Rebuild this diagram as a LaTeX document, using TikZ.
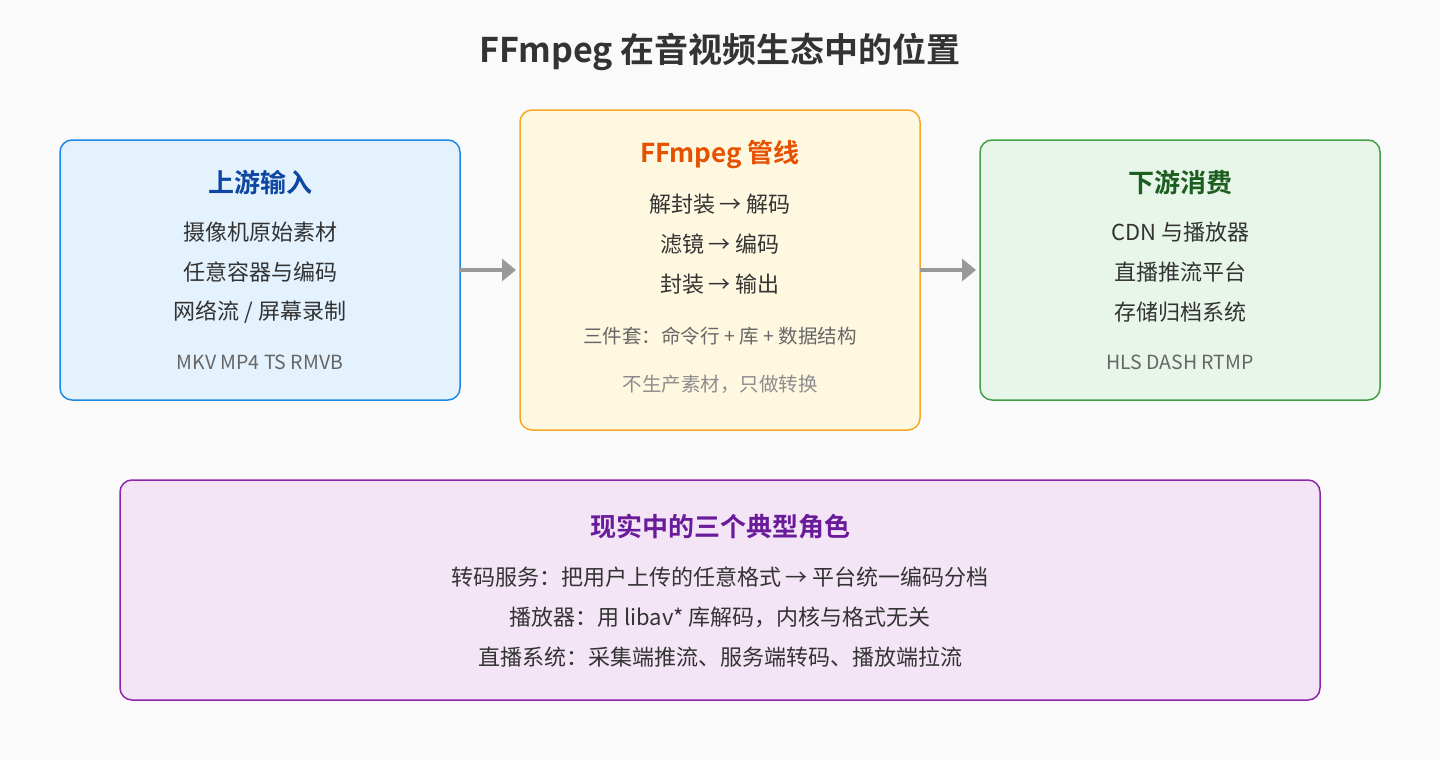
\documentclass[tikz,border=0pt]{standalone}
\usepackage{fontspec}
\setmainfont{Noto Sans CJK SC}[BoldFont={* Bold}]
\usetikzlibrary{arrows.meta}
\definecolor{bg}{HTML}{FAFAFA}
\definecolor{bluef}{HTML}{E3F2FD}\definecolor{blues}{HTML}{1E88E5}\definecolor{bluet}{HTML}{0D47A1}
\definecolor{orf}{HTML}{FFF8E1}\definecolor{ors}{HTML}{F9A825}\definecolor{ort}{HTML}{E65100}
\definecolor{grf}{HTML}{E8F5E9}\definecolor{grs}{HTML}{43A047}\definecolor{grt}{HTML}{1B5E20}
\definecolor{puf}{HTML}{F3E5F5}\definecolor{pus}{HTML}{8E24AA}\definecolor{put}{HTML}{6A1B9A}
\definecolor{txt}{HTML}{333333}
\tikzset{
 box/.style={draw,line width=1.5pt,rounded corners=12pt},
 ttl/.style={font=\bfseries\fontsize{26}{30}\selectfont},
 body/.style={text=txt,font=\fontsize{22}{26}\selectfont},
 small/.style={text=black!60,font=\fontsize{19.5}{23}\selectfont},
 tiny/.style={text=black!45,font=\fontsize{19.5}{23}\selectfont},
 arr/.style={draw=black!40,line width=3.5pt,-{Triangle[length=14pt,width=22pt]}}
}
\begin{document}
\begin{tikzpicture}[x=1pt,y=-1pt]
\fill[bg] (0,0) rectangle (1440,760);
\useasboundingbox (0,0) rectangle (1440,760);
\node[text=txt,font=\bfseries\fontsize{34}{38}\selectfont] (title) at (720,52) {FFmpeg 在音视频生态中的位置};
% left
\draw[box,fill=bluef,draw=blues] (60,140) rectangle (460,400);
\coordinate (L) at (460,270);
\node[ttl,text=bluet] (l0) at (260,183) {上游输入};
\node[body] (l1) at (260,232) {摄像机原始素材};
\node[body] (l2) at (260,272) {任意容器与编码};
\node[body] (l3) at (260,312) {网络流 / 屏幕录制};
\node[small] (l4) at (260,362) {MKV MP4 TS RMVB};
% middle
\draw[box,fill=orf,draw=ors] (520,110) rectangle (920,430);
\coordinate (ML) at (516,270); \coordinate (MR) at (920,270);
\node[ttl,text=ort] (m0) at (720,155) {FFmpeg 管线};
\node[body] (m1) at (720,204) {解封装 → 解码};
\node[body] (m2) at (720,244) {滤镜 → 编码};
\node[body] (m3) at (720,284) {封装 → 输出};
\node[small] (m4) at (720,336) {三件套：命令行 + 库 + 数据结构};
\node[tiny] (m5) at (720,384) {不生产素材，只做转换};
% right
\draw[box,fill=grf,draw=grs] (980,140) rectangle (1380,400);
\coordinate (R) at (976,270);
\node[ttl,text=grt] (r0) at (1180,183) {下游消费};
\node[body] (r1) at (1180,232) {CDN 与播放器};
\node[body] (r2) at (1180,272) {直播推流平台};
\node[body] (r3) at (1180,312) {存储归档系统};
\node[small] (r4) at (1180,362) {HLS DASH RTMP};
% arrows
\draw[arr] (L) -- (ML);
\draw[arr] (MR) -- (R);
% bottom
\draw[box,fill=puf,draw=pus] (120,480) rectangle (1320,700);
\node[ttl,text=put] (b0) at (720,527) {现实中的三个典型角色};
\node[body] (b1) at (720,577) {转码服务：把用户上传的任意格式 → 平台统一编码分档};
\node[body] (b2) at (720,617) {播放器：用 libav* 库解码，内核与格式无关};
\node[body] (b3) at (720,657) {直播系统：采集端推流、服务端转码、播放端拉流};
\end{tikzpicture}
\end{document}
